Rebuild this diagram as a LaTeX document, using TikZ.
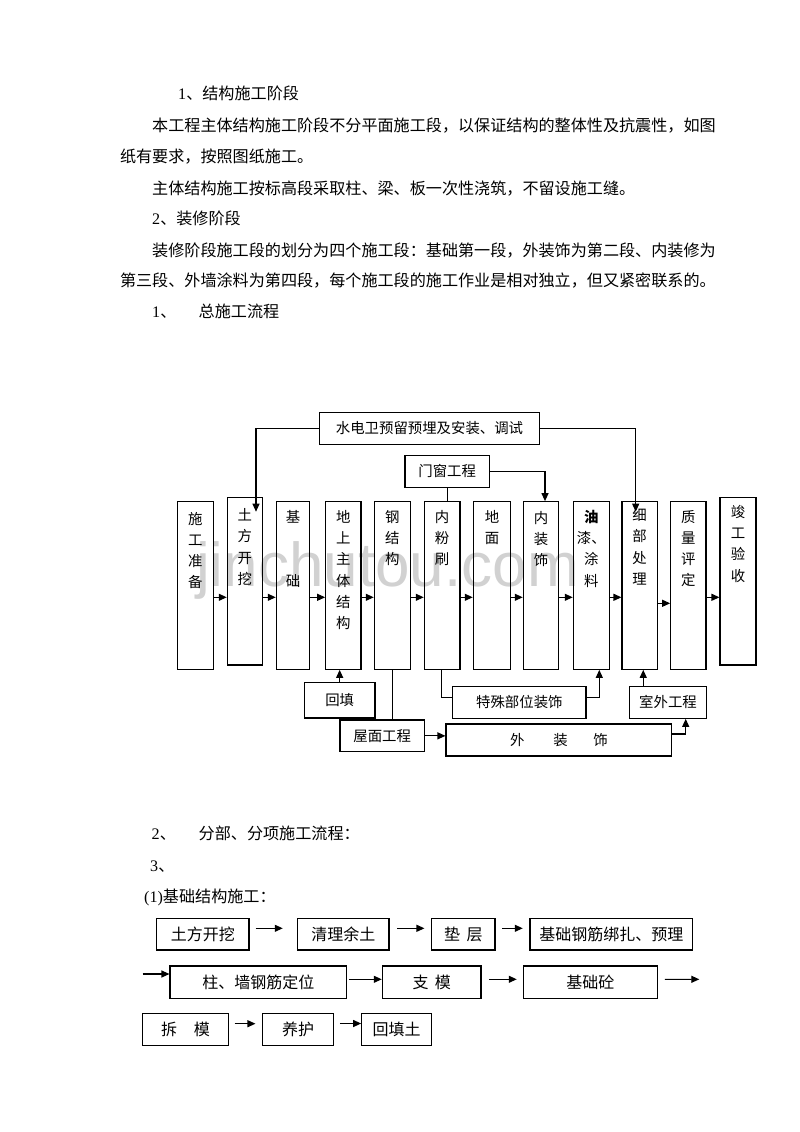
\documentclass[tikz,border=0pt]{standalone}
\usepackage{fontspec}
\setmainfont{Liberation Serif}
\newfontfamily\cjk{Noto Sans CJK SC}
\newfontfamily\wmfont{Liberation Sans}
\usetikzlibrary{arrows.meta}
\newcommand\lat[1]{{\rmfamily #1}}
% \mybox[style]{name}{x1}{y1}{x2}{y2}{text}
\newcommand\mybox[7][]{\node[bx,#1,minimum width={(#5-#3)*1pt},minimum height={(#6-#4)*1pt}] (#2) at ({(#3+#5)/2},{(#4+#6)/2}) {#7};}
\begin{document}
\begin{tikzpicture}[x=1pt,y=-1pt,
  bx/.style={draw,line width=1.1pt,inner sep=0pt,font=\cjk\fontsize{14.4}{17}\selectfont,text height=12.2pt,text depth=1.3pt},
  bb/.style={font=\cjk\fontsize{16}{19}\selectfont,text height=13.5pt,text depth=1.4pt},
  vt/.style={inner sep=0pt,align=center,anchor=north,font=\cjk\fontsize{14.4}{21.2}\selectfont},
  body/.style={inner sep=0pt,anchor=base west,font=\cjk\fontsize{16.1}{20}\selectfont},
  ln/.style={line width=1.1pt},
  arr/.style={line width=1.1pt,-{Triangle[length=8pt,width=7pt]}},
]
\fill[white] (0,0) rectangle (800,1132);
\useasboundingbox (0,0) rectangle (800,1132);

% watermark
\node[inner sep=0pt,anchor=base west,font=\wmfont\fontsize{62}{62}\selectfont,text=black!18] (wmk) at (196,586) {jinchutou.com};

% body text
\node[body] (p1) at (178,99.4) {\lat{1}、结构施工阶段};
\node[body] (p2) at (152,131.1) {本工程主体结构施工阶段不分平面施工段，以保证结构的整体性及抗震性，如图};
\node[body] (p3) at (119.8,162.8) {纸有要求，按照图纸施工。};
\node[body] (p4) at (152,194.4) {主体结构施工按标高段采取柱、梁、板一次性浇筑，不留设施工缝。};
\node[body] (p5) at (152,224.4) {\lat{2}、装修阶段};
\node[body] (p6) at (152,256.1) {装修阶段施工段的划分为四个施工段：基础第一段，外装饰为第二段、内装修为};
\node[body] (p7) at (119.8,286.1) {第三段、外墙涂料为第四段，每个施工段的施工作业是相对独立，但又紧密联系的。};
\node[body] (p8a) at (152,317.8) {\lat{1}、};
\node[body] (p8b) at (198.5,317.8) {总施工流程};

% flowchart - top boxes
\mybox{sd}{319.7}{412.7}{539.3}{444.3}{水电卫预留预埋及安装、调试}
\mybox{mc}{405}{455.7}{489.3}{487.3}{门窗工程}

% vertical boxes
\mybox{zb}{177.3}{501.7}{213.3}{669.3}{}
\mybox{tf}{227.3}{497.3}{262.3}{665}{}
\mybox{jc}{276.3}{501.7}{309.7}{669.3}{}
\mybox{ds}{325.7}{501.7}{361}{669.3}{}
\mybox{gj}{374.3}{501.7}{410.3}{669.3}{}
\mybox{nf}{424.3}{501.7}{460}{669.3}{}
\mybox{dm}{473.3}{501.7}{510.7}{669.3}{}
\mybox{nz}{523.3}{501.7}{558.7}{669.3}{}
\mybox{yq}{573.3}{501.7}{609.3}{669.3}{}
\mybox{xb}{622}{501.7}{657.3}{669.3}{}
\mybox{zl}{670.7}{501.7}{706}{669.3}{}
\mybox{jg}{720}{497.3}{756}{665}{}

\node[vt] (zbt) at (195.3,511.7) {施\\工\\准\\备};
\node[vt] (tft) at (244.8,508.4) {土\\方\\开\\挖};
\node[vt] (jct) at (293,510.1) {基\\[42.4pt]础};
\node[vt] (dst) at (343.35,510.1) {地\\上\\主\\体\\结\\构};
\node[vt] (gjt) at (392.3,510.1) {钢\\结\\构};
\node[vt] (nft) at (442.15,510.1) {内\\粉\\刷};
\node[vt] (dmt) at (492,510.1) {地\\面};
\node[vt] (nzt) at (541,511.2) {内\\装\\饰};
\node[vt] (yqt) at (591.3,510.1) {{\bfseries 油}\\漆、\\涂\\料};
\node[vt] (xbt) at (639.65,508.4) {细\\部\\处\\理};
\node[vt] (zlt) at (688.35,510.1) {质\\量\\评\\定};
\node[vt] (jgt) at (738,505.1) {竣\\工\\验\\收};

% bottom boxes of flowchart
\mybox{hf}{304.3}{682.7}{375}{718}{回填}
\mybox{wm}{340}{720}{424.3}{751.7}{屋面工程}
\mybox{ts}{452.7}{686.7}{586}{718.3}{特殊部位装饰}
\mybox{sw}{629.3}{686.7}{706.7}{718.3}{室外工程}
\mybox{wz}{446}{724}{671.7}{756}{外\hspace{28.9pt}装\hspace{25.6pt}饰}

% connectors of flowchart
\coordinate (tfin) at (256,511.7);
\coordinate (xbin) at (635.7,511.7);
\draw[arr] (sd.west) -| (tfin);
\draw[arr] (sd.east) -| (xbin);
\draw[ln] (mc.south) -- (mc.south |- nf.north);
\draw[arr] (mc.east) -| ([xshift=4pt]nz.north);

\coordinate (row) at (0,597.3);
\coordinate (rowb) at (0,603.3);
\draw[arr] (zb.east |- row) -- (tf.west |- row);
\draw[arr] (tf.east |- row) -- (jc.west |- row);
\draw[arr] (jc.east |- row) -- (ds.west |- row);
\draw[arr] (ds.east |- row) -- (gj.west |- row);
\draw[arr] (gj.east |- row) -- (nf.west |- row);
\draw[arr] (nf.east |- row) -- (dm.west |- row);
\draw[arr] (dm.east |- row) -- (nz.west |- row);
\draw[arr] (nz.east |- row) -- (yq.west |- row);
\draw[arr] (yq.east |- row) -- (xb.west |- row);
\draw[arr] (xb.east |- rowb) -- (zl.west |- rowb);
\draw[arr] (zl.east |- row) -- (jg.west |- row);

\draw[arr] (hf.north) -- (hf.north |- ds.south);
\draw[ln] (gj.south) -- (gj.south |- wm.north);
\draw[arr] (wm.east) -- (wm.east -| wz.west);
\draw[ln] ([xshift=-1pt]nf.south) |- ([yshift=5.2pt]ts.west);
\draw[arr] ([yshift=5.2pt]ts.east) -| ([xshift=8pt]yq.south);
\draw[arr] ([xshift=3.6pt]xb.south |- sw.north) -- ([xshift=3.6pt]xb.south);
\draw[arr] ([yshift=6pt]wz.east) -| ([xshift=17.7pt]sw.south);

% section 2 text
\node[body] (q1a) at (151.5,839.1) {\lat{2}、};
\node[body] (q1b) at (198.5,839.1) {分部、分项施工流程：};
\node[body] (q2) at (150,871.1) {\lat{3}、};
\node[body] (q3) at (144,902.1) {\lat{(1)}基础结构施工：};

% foundation flow
\mybox[bb]{b1}{156.7}{918.3}{249}{950}{土方开挖}
\mybox[bb]{b2}{297.7}{918.3}{389}{950}{清理余土}
\mybox[bb]{b3}{431.7}{918.3}{495}{950}{垫\hspace{6.7pt}层}
\mybox[bb]{b4}{530}{918.3}{692.7}{950}{基础钢筋绑扎、预理}
\mybox[bb]{c1}{170}{966}{346.7}{998.3}{柱、墙钢筋定位}
\mybox[bb]{c2}{382.3}{966}{481}{998.3}{支\hspace{6.3pt}模}
\mybox[bb]{c3}{523.3}{966}{657.3}{998.3}{基础砼}
\mybox[bb]{d1}{142.7}{1013.3}{228.3}{1045.7}{拆\hspace{16.7pt}模}
\mybox[bb]{d2}{262.7}{1013.3}{333.3}{1045.7}{养护}
\mybox[bb]{d3}{361.7}{1013.3}{431.7}{1045.7}{回填土}

\draw[arr] ([xshift=6pt,yshift=5.85pt]b1.east) -- ([xshift=-14.4pt,yshift=5.85pt]b2.west);
\draw[arr] ([xshift=7.7pt,yshift=5.85pt]b2.east) -- ([xshift=-6.7pt,yshift=5.85pt]b3.west);
\draw[arr] ([xshift=6.7pt,yshift=5.85pt]b3.east) -- ([xshift=-6.7pt,yshift=5.85pt]b4.west);
\coordinate (c0) at (142.7,974);
\draw[arr] (c0) -- (c0 -| c1.west);
\draw[arr] ([xshift=1.6pt,yshift=2.85pt]c1.east) -- ([yshift=2.85pt]c2.west);
\draw[arr] ([xshift=7.3pt,yshift=2.85pt]c2.east) -- ([xshift=-6pt,yshift=2.85pt]c3.west);
\coordinate (c4) at (699.3,979.3);
\draw[arr] ([xshift=7pt,yshift=2.85pt]c3.east) -- (c4);
\draw[arr] ([xshift=5.7pt,yshift=5.8pt]d1.east) -- ([xshift=-6.7pt,yshift=5.8pt]d2.west);
\draw[arr] ([xshift=6pt,yshift=6pt]d2.east) -- ([yshift=6pt]d3.west);
\end{tikzpicture}
\end{document}
